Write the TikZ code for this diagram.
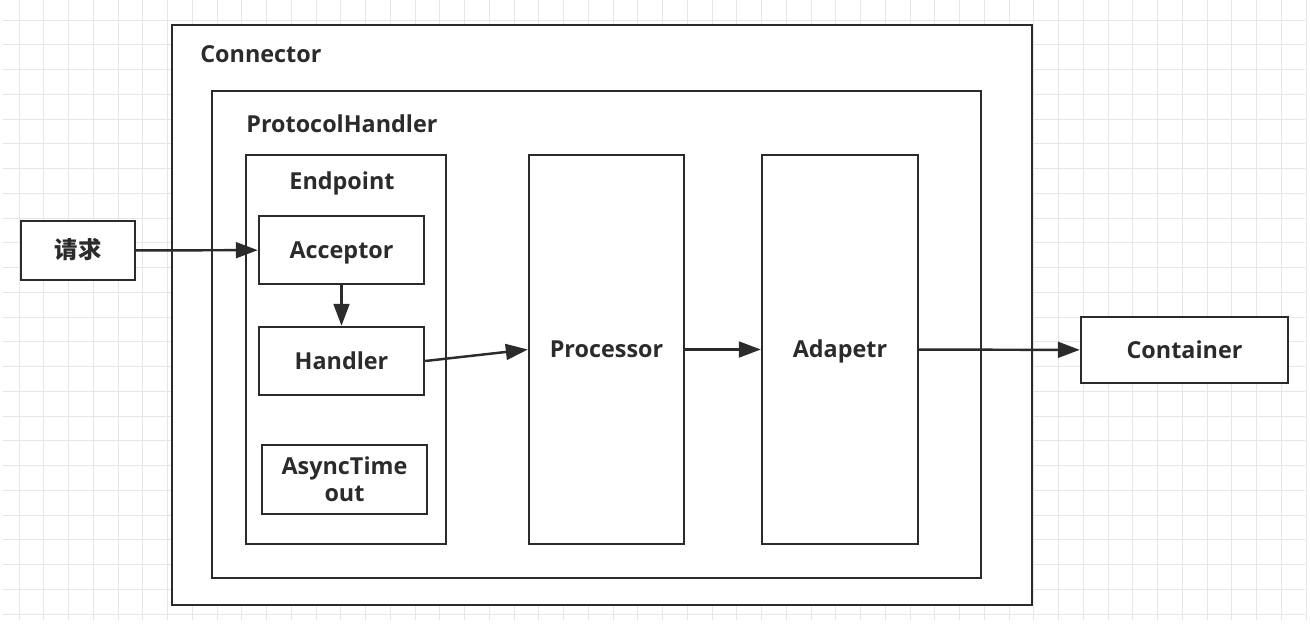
\documentclass[tikz,border=0pt]{standalone}
\usepackage{fontspec}
\setmainfont{Open Sans}
\newfontfamily\cjk{Noto Sans CJK SC}
\usetikzlibrary{arrows.meta}
\definecolor{ink}{HTML}{2B2B2B}
\definecolor{gridgray}{HTML}{E6E6E6}
\begin{document}
\begin{tikzpicture}[x=0.02cm,y=-0.02cm,
  box/.style={draw=ink,line width=1.4pt,fill=white,text=ink,inner sep=0pt,
    text height=9.5pt,text depth=0pt,
    font=\bfseries\fontsize{13.3}{15.3}\selectfont},
  lbl/.style={text=ink,inner sep=0pt,text height=9.5pt,text depth=0pt,
    font=\bfseries\fontsize{13.3}{15.3}\selectfont},
  flow/.style={draw=ink,line width=1.4pt,-{Triangle[length=12.5pt,width=9pt]}}]
\useasboundingbox (0,0) rectangle (1310,636);
\fill[white] (0,0) rectangle (1310,636);
% grid
\foreach \gx in {0,...,52}
  \draw[gridgray,line width=0.5pt] ({19+24.75*\gx},0) -- ({19+24.75*\gx},620);
\foreach \gy in {0,...,24}
  \draw[gridgray,line width=0.5pt] (3,{20+24.75*\gy}) -- (1305,{20+24.75*\gy});
% outer boxes
\node[box,minimum width=17.2cm,minimum height=11.6cm] (connector) at (602,315) {};
\node[box,minimum width=15.38cm,minimum height=9.74cm] (protocol) at (596.5,334.5) {};
\node[box,minimum width=4cm,minimum height=7.78cm] (endpoint) at (346,349.5) {};
\node[lbl,anchor=west] (connectorlbl) at (200,54) {Connector};
\node[lbl,anchor=west] (protocollbl) at (246,124) {ProtocolHandler};
\node[lbl] (endpointlbl) at (342,181) {Endpoint};
% Endpoint
\node[box,minimum width=3.3cm,minimum height=1.36cm] (acceptor) at (341.5,250) {Acceptor};
\node[box,minimum width=3.3cm,minimum height=1.36cm] (handler) at (341.5,361) {Handler};
\node[box,minimum width=3.3cm,minimum height=1.38cm,align=center,text height=,text depth=] (async) at (344.5,479.5) {AsyncTime\\out};
% stages
\node[box,minimum width=3.1cm,minimum height=7.78cm] (processor) at (606.5,349.5) {Processor};
\node[box,minimum width=3.12cm,minimum height=7.78cm] (adapetr) at (840,349.5) {Adapetr};
% ends
\node[box,minimum width=2.28cm,minimum height=1.18cm] (request) at (78,250.5) {\cjk\bfseries 请求};
\node[box,minimum width=4.14cm,minimum height=1.32cm] (container) at (1184.5,350) {Container};
% arrows
\draw[flow] (request) -- (acceptor);
\draw[flow] (acceptor) -- (handler);
\draw[flow] (handler.east) -- (processor.west);
\draw[flow] (processor) -- (adapetr);
\draw[flow] (adapetr) -- (container);
\end{tikzpicture}
\end{document}
